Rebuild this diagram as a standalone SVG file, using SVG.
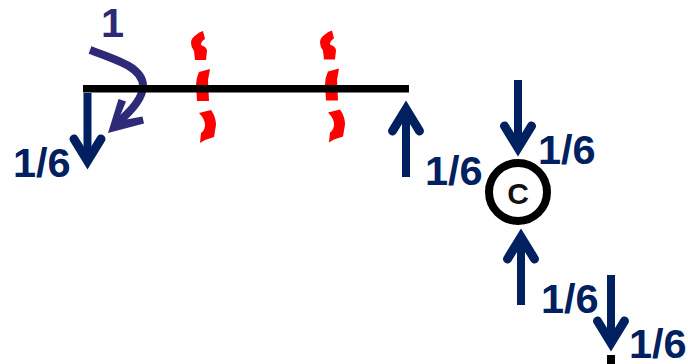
<svg xmlns="http://www.w3.org/2000/svg" width="688" height="364" viewBox="0 0 688 364">
<style>
.lb{font-family:"Liberation Sans",Arial,sans-serif;font-weight:700;font-size:41.5px;fill:#002060}
.ar{fill:none;stroke:#002060;stroke-width:8}
.hd{fill:none;stroke:#002060;stroke-width:9;stroke-linecap:round;stroke-miterlimit:10}
.sq{fill:#ff0000}
</style>
<defs>
<g id="down"><path class="ar" d="M0 0V62"/><path class="hd" d="M-13.500 46L0 68L13.500 46"/></g>
<g id="sq"><path class="sq" d="M196 35Q199 32 203 31L205 39Q201 41 201 45Q207 47 207 51L206 60L195 60L194 51Q191 47 191 43Q191 38 196 35Z"/><path class="sq" d="M199 72L210 69Q209 75 208 80L209 101L197 101L196 85Q196 78 199 72Z"/><path class="sq" d="M199 113L211 110Q216 117 216 125L214 137L205 140L200 143L201 133Q205 130 205 125Q205 119 199 113Z"/></g>
</defs>
<g id="cuts"><use href="#sq"/><use href="#sq" x="129" y="-0.5"/></g>
<g id="connectors">
<use href="#down" transform="translate(87.5 93)"/>
<use href="#down" transform="translate(406 177) scale(1 -1)"/>
<use href="#down" transform="translate(518 80)"/>
<use href="#down" transform="translate(521 305) scale(1 -1)"/>
<use href="#down" transform="translate(611 275)"/>
<path d="M90 50C118 60 143 68 143 86C143 100 128 114 116 124" fill="none" stroke="#2E2A78" stroke-width="8"/>
<path d="M108 133L118.500 99L126 101.500L118 121L142.500 116.500L144 123.500Z" fill="#2E2A78"/>
</g>
<g id="beam"><rect x="83" y="85" width="326" height="7.500" fill="#000"/></g>
<g id="node-c"><circle cx="518" cy="192" r="29" fill="#fff" stroke="#000" stroke-width="8"/><text x="518" y="204" text-anchor="middle" style="font-family:'Liberation Sans',Arial,sans-serif;font-weight:700;font-size:30px;fill:#111">C</text></g>
<g id="node-end"><rect x="607" y="355" width="8" height="9" fill="#000"/></g>
<g id="labels">
<text x="101" y="37" class="lb" style="fill:#2E2A78">1</text>
<text x="13" y="177" class="lb">1/6</text>
<text x="425" y="185" class="lb">1/6</text>
<text x="538" y="164" class="lb">1/6</text>
<text x="541" y="313" class="lb">1/6</text>
<text x="629" y="358" class="lb">1/6</text>
</g>
</svg>
